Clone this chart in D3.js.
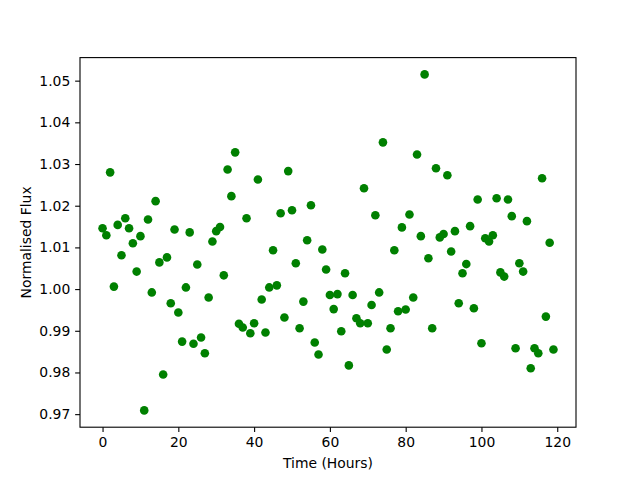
<!DOCTYPE html>
<html>
<head>
<meta charset="utf-8">
<script src="https://cdn.jsdelivr.net/npm/d3@7"></script>
<style>
  body { margin: 0; background: #fff; }
  svg { display: block; }
  text { font-family: "DejaVu Sans", sans-serif; }
</style>
</head>
<body>
<svg width="640" height="480"></svg>
<script>
// hourly samples, 0..119
var hours = d3.range(0, 120);

var flux = [
  1.0146, 1.0129, 1.0280, 1.0006, 1.0154, 1.0081, 1.0170, 1.0146, 1.0110, 1.0042,
  1.0127, 0.9709, 1.0167, 0.9992, 1.0211, 1.0064, 0.9795, 1.0076, 0.9966, 1.0143,
  0.9944, 0.9874, 1.0004, 1.0136, 0.9869, 1.0059, 0.9884, 0.9846, 0.9980, 1.0114,
  1.0139, 1.0149, 1.0033, 1.0287, 1.0223, 1.0328, 0.9917, 0.9908, 1.0170, 0.9894,
  0.9918, 1.0263, 0.9975, 0.9896, 1.0004, 1.0093, 1.0009, 1.0182, 0.9932, 1.0283,
  1.0189, 1.0062, 0.9906, 0.9970, 1.0117, 1.0201, 0.9872, 0.9843, 1.0095, 1.0047,
  0.9986, 0.9952, 0.9988, 0.9899, 1.0038, 0.9817, 0.9986, 0.9930, 0.9918, 1.0242,
  0.9918, 0.9962, 1.0177, 0.9992, 1.0352, 0.9855, 0.9906, 1.0093, 0.9947, 1.0148,
  0.9951, 1.0179, 0.9980, 1.0323, 1.0127, 1.0515, 1.0074, 0.9906, 1.0290, 1.0124,
  1.0132, 1.0273, 1.0090, 1.0139, 0.9966, 1.0038, 1.0060, 1.0151, 0.9954, 1.0215,
  0.9870, 1.0122, 1.0114, 1.0129, 1.0218, 1.0040, 1.0030, 1.0215, 1.0175, 0.9858,
  1.0062, 1.0042, 1.0163, 0.9810, 0.9858, 0.9846, 1.0266, 0.9934, 1.0111, 0.9855
];

var xTicks = [0, 20, 40, 60, 80, 100, 120];
var yTicks = [0.97, 0.98, 0.99, 1.00, 1.01, 1.02, 1.03, 1.04, 1.05];

(function () {
  var svg = d3.select("svg");
  var left = 80, right = 576, top = 57.6, bottom = 427.2;

  // matplotlib style 5% padding
  function padded(ext) {
    var m = (ext[1] - ext[0]) * 0.05;
    return [ext[0] - m, ext[1] + m];
  }

  var x = d3.scaleLinear().domain(padded(d3.extent(hours))).range([left, right]);
  var y = d3.scaleLinear().domain(padded(d3.extent(flux))).range([bottom, top]);

  var tickSize = 4.86;

  var xAxis = svg.append("g")
    .attr("transform", "translate(0," + bottom + ")")
    .call(d3.axisBottom(x).tickValues(xTicks).tickFormat(d3.format("d")).tickSizeOuter(0).tickSize(tickSize).tickPadding(4.9));

  var yAxis = svg.append("g")
    .attr("transform", "translate(" + left + ",0)")
    .call(d3.axisLeft(y).tickValues(yTicks).tickFormat(d3.format(".2f")).tickSizeOuter(0).tickSize(tickSize).tickPadding(4.9));

  [xAxis, yAxis].forEach(function (g) {
    g.select(".domain").remove();
    g.selectAll("line").attr("stroke", "#000").attr("stroke-width", 1.1);
    g.selectAll("text").attr("fill", "#000").style("font-size", "13.9px");
  });

  // frame
  svg.append("rect")
    .attr("x", left).attr("y", top)
    .attr("width", right - left).attr("height", bottom - top)
    .attr("fill", "none").attr("stroke", "#000").attr("stroke-width", 1.1);

  svg.append("g")
    .selectAll("circle")
    .data(hours)
    .enter()
    .append("circle")
    .attr("cx", function (d) { return x(d); })
    .attr("cy", function (d, i) { return y(flux[i]); })
    .attr("r", 4.3)
    .attr("fill", "#008000");

  svg.append("text")
    .attr("x", (left + right) / 2)
    .attr("y", 468)
    .attr("text-anchor", "middle")
    .style("font-size", "13.9px")
    .text("Time (Hours)");

  svg.append("text")
    .attr("transform", "translate(31," + (top + bottom) / 2 + ") rotate(-90)")
    .attr("text-anchor", "middle")
    .style("font-size", "13.9px")
    .text("Normalised Flux");
})();
</script>
</body>
</html>
